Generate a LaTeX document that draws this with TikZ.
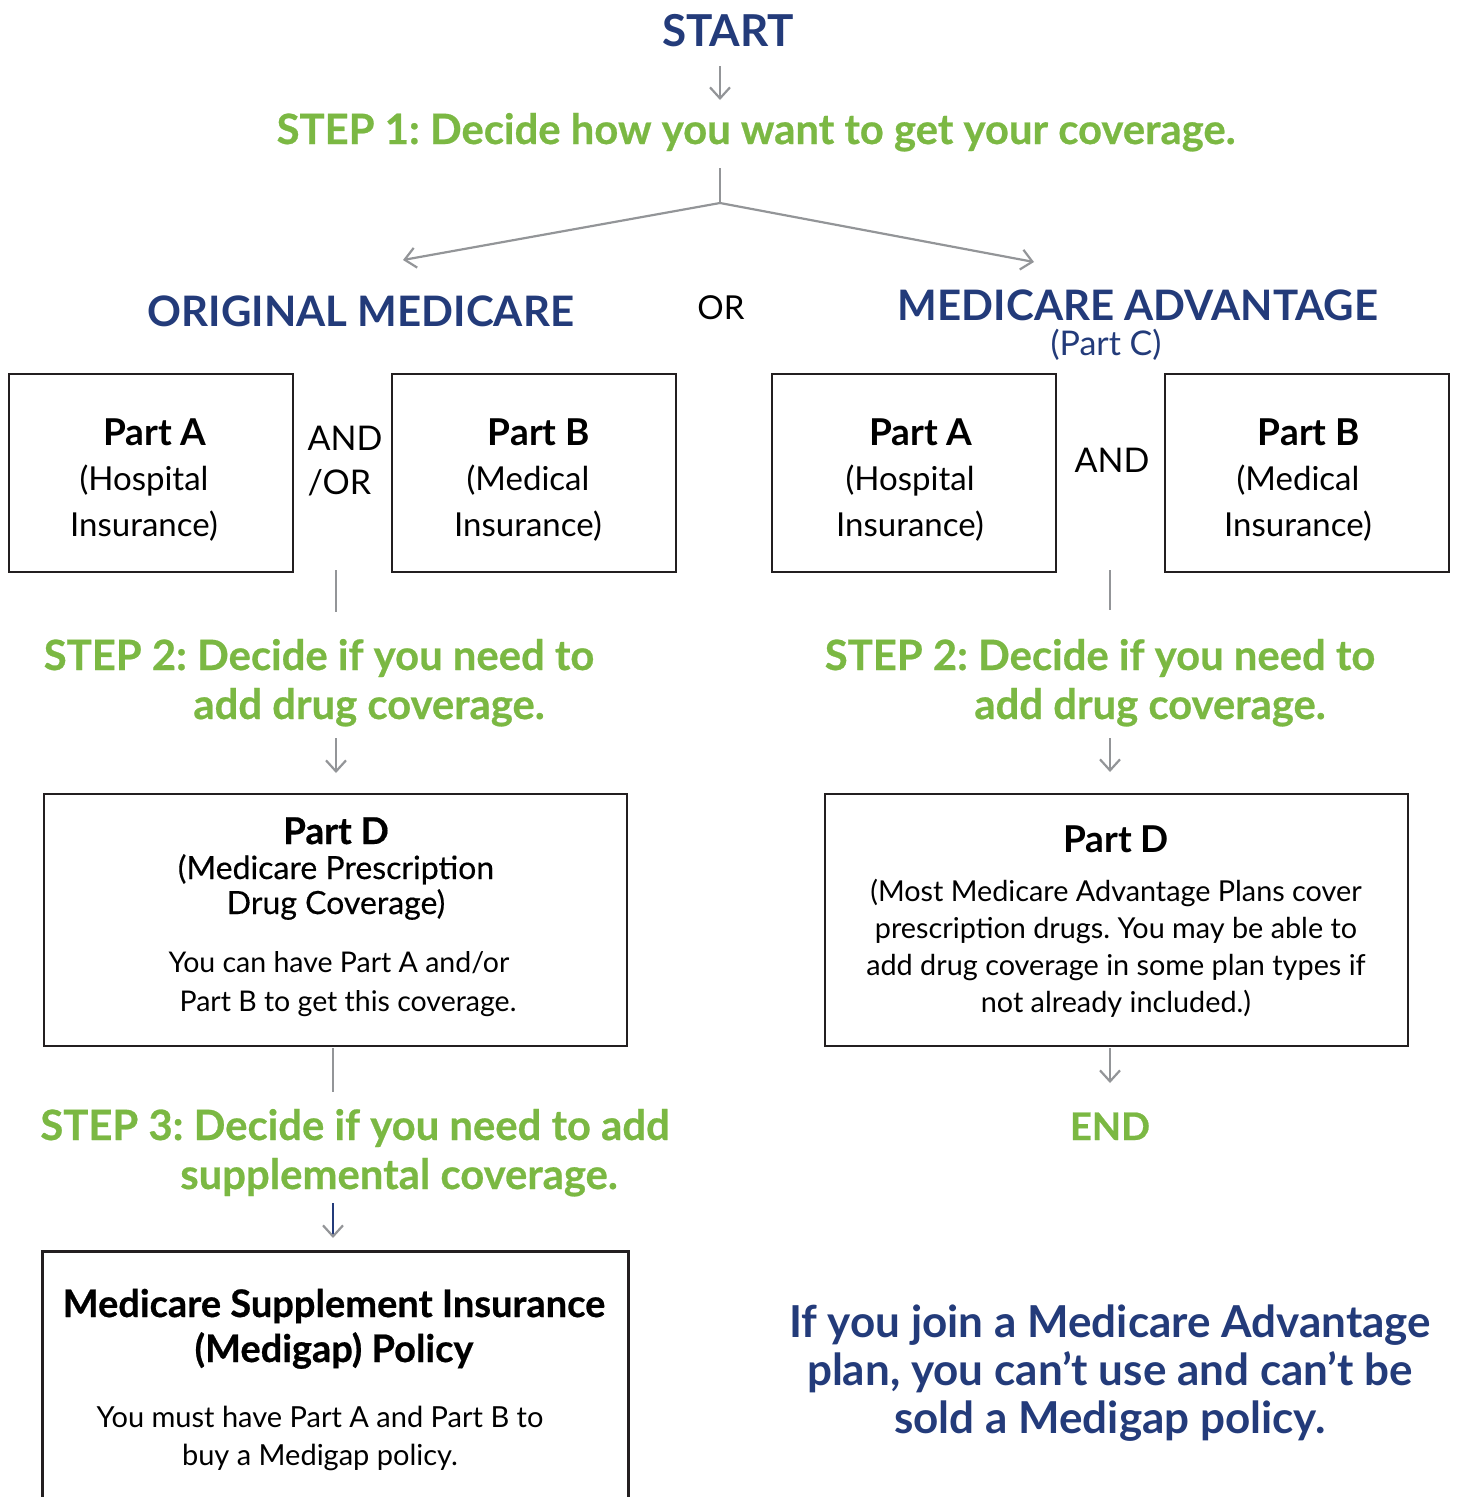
\documentclass[tikz,border=0pt]{standalone}
\usepackage{fontspec}
\setmainfont{Lato}
\newfontfamily\medfont{Lato}[FakeBold=0.4]
\newfontfamily\heavyfont{Lato}[BoldFeatures={FakeBold=0.6}]
\usetikzlibrary{arrows.meta}
\definecolor{mblue}{HTML}{233B7A}
\definecolor{mgreen}{HTML}{7BB843}
\definecolor{mgray}{HTML}{939598}
\definecolor{mdark}{HTML}{231F20}
\newcommand{\myfs}[2]{\fontsize{#1}{#2}\selectfont}
\newcommand{\parthead}[1]{\hspace*{22pt}{\myfs{37}{45.5}\bfseries #1}}
\begin{document}
\frenchspacing
\begin{tikzpicture}[x=1pt,y=-1pt,
  box/.style={draw=mdark, line width=2.8pt, inner sep=0pt},
  smallbox/.style={box, minimum width=284pt, minimum height=198pt},
  dbox/.style={box, minimum width=583pt, minimum height=252pt},
  boxtxt/.style={anchor=base, align=center, text=black, inner sep=0pt, font=\myfs{33}{45.5}},
  conn/.style={draw=mgray, line width=2.2pt},
  arr/.style={conn, -{Straight Barb[length=11pt,width=20pt]}},
  titleb/.style={anchor=base, text=mblue, font=\myfs{42}{48}\bfseries},
  stepg/.style={anchor=base, text=mgreen, font=\myfs{41.8}{48}\heavyfont\bfseries, inner sep=0pt},
  plain/.style={text=black, font=\myfs{34}{44}},
]
\useasboundingbox (0,0) rectangle (1457,1497);
\clip (0,0) rectangle (1457,1497);

% titles
\node[titleb, font=\myfs{44}{50}\bfseries] (start) at (728,46) {START};
\node[stepg] (step1) at (756,144) {STEP 1: Decide how you want to get your coverage.};
\node[titleb] (orig) at (361,326) {ORIGINAL MEDICARE};
\node[anchor=base, plain, font=\myfs{33}{44}] (or) at (721,319) {OR};
\node[titleb] (adv) at (1138,320) {MEDICARE ADVANTAGE};
\node[anchor=base, text=mblue, font=\myfs{34}{40}] (partc) at (1106,355) {(Part C)};

% top boxes
\node[smallbox] (la) at (151,473) {};
\node[boxtxt] (lat) at (144,536) {\parthead{Part A}\\(Hospital\\Insurance)};
\node[smallbox] (lb) at (534,473) {};
\node[boxtxt] (lbt) at (528,536) {\parthead{Part B}\\(Medical\\Insurance)};
\node[plain, align=left] (andor) at (345,461) {AND\\/OR};
\node[smallbox] (ra) at (914,473) {};
\node[boxtxt] (rat) at (910,536) {\parthead{Part A}\\(Hospital\\Insurance)};
\node[smallbox] (rb) at (1307,473) {};
\node[boxtxt] (rbt) at (1298,536) {\parthead{Part B}\\(Medical\\Insurance)};
\node[plain] (and) at (1112,460) {AND};

% step 2
\node[stepg] (s2la) at (319,670) {STEP 2: Decide if you need to};
\node[stepg] (s2lb) at (369,719) {add drug coverage.};
\node[stepg] (s2ra) at (1100,670) {STEP 2: Decide if you need to};
\node[stepg] (s2rb) at (1150,719) {add drug coverage.};

% part D boxes
\node[dbox] (pdl) at (335.5,920) {};
\node[boxtxt, font=\myfs{32}{35}\medfont] (pdlh) at (336,914)
  {{\myfs{37}{35}\bfseries Part D}\\(Medicare Prescription\\Drug Coverage)};
\node[boxtxt, font=\myfs{28.5}{39}] (pdlb) at (339,1011)
  {You can have Part A and/or\\\hspace*{18pt}Part B to get this coverage.};
\node[dbox] (pdr) at (1116.5,920) {};
\node[boxtxt, font=\myfs{37}{40}\bfseries] (pdrh) at (1116,852) {Part D};
\node[boxtxt, font=\myfs{28.8}{37}] (pdrb) at (1116,1012)
  {(Most Medicare Advantage Plans cover\\prescription drugs. You may be able to\\add drug coverage in some plan types if\\not already included.)};

% step 3 / end
\node[stepg] (s3a) at (355,1140) {STEP 3: Decide if you need to add};
\node[stepg] (s3b) at (399,1189) {supplemental coverage.};
\node[stepg, font=\myfs{38}{46}\heavyfont\bfseries] (endn) at (1110,1140) {END};

% medigap box (cut at bottom)
\node[box, minimum width=586pt, minimum height=300pt, anchor=north west] (mg) at (41,1250) {};
\node[boxtxt, font=\myfs{38}{45}\heavyfont\bfseries] (mgt) at (334,1362)
  {Medicare Supplement Insurance\\(Medigap) Policy};
\node[boxtxt, font=\myfs{29}{38}] (mgb) at (320,1465)
  {You must have Part A and Part B to\\buy a Medigap policy.};

% note
\node[anchor=base, text=mblue, font=\myfs{44}{48}\bfseries, align=center, inner sep=0pt] (note) at (1110,1433)
  {If you join a Medicare Advantage\\plan, you can’t use and can’t be\\sold a Medigap policy.};

% connector points
\coordinate (c1a) at (720,66);  \coordinate (c1b) at (720,100);
\coordinate (c2a) at (720,168); \coordinate (c2b) at (720,203);
\coordinate (c2l) at (403,260); \coordinate (c2r) at (1034,262);
\coordinate (c3a) at (336,570); \coordinate (c3b) at (336,612);
\coordinate (c4a) at (1110,570); \coordinate (c4b) at (1110,610);
\coordinate (c5a) at (336,738); \coordinate (c5b) at (336,773);
\coordinate (c6a) at (1110,738); \coordinate (c6b) at (1110,772);
\coordinate (c7a) at (333,1048); \coordinate (c7b) at (333,1092);
\coordinate (c8a) at (333,1203); \coordinate (c8b) at (333,1238);
\coordinate (c9a) at (1110,1048); \coordinate (c9b) at (1110,1083);

\draw[arr] (c1a) -- (c1b);
\draw[conn] (c2a) -- (c2b);
\draw[arr] (c2b) -- (c2l);
\draw[arr] (c2b) -- (c2r);
\draw[conn] (c3a) -- (c3b);
\draw[conn] (c4a) -- (c4b);
\draw[arr] (c5a) -- (c5b);
\draw[arr] (c6a) -- (c6b);
\draw[conn] (c7a) -- (c7b);
\draw[arr, draw=mblue, -{Straight Barb[length=11pt,width=20pt,color=mgray]}] (c8a) -- (c8b);
\draw[arr] (c9a) -- (c9b);
\end{tikzpicture}
\end{document}
